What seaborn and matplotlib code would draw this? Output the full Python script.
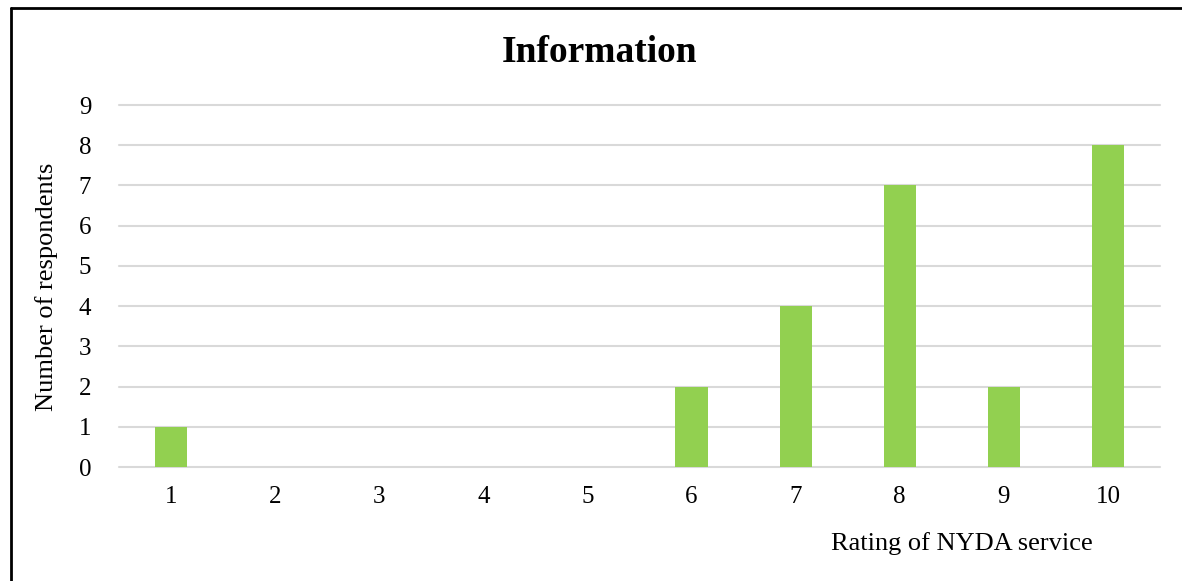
import matplotlib
matplotlib.use("Agg")
import matplotlib.pyplot as plt
import seaborn as sns
import pandas as pd

# data
ratings = ['1', '2', '3', '4', '5', '6', '7', '8', '9', '10']
respondents = [1, 0, 0, 0, 0, 2, 4, 7, 2, 8]
df = pd.DataFrame({'Rating': ratings, 'Count': respondents})

sns.set_theme(style="white")
plt.rcParams['font.family'] = ['Liberation Serif', 'DejaVu Serif']
plt.rcParams['text.color'] = 'black'

fig = plt.figure(figsize=(11.82, 5.81), dpi=100)
ax = fig.add_axes([119 / 1182, 1 - 467 / 581, 1041 / 1182, 362 / 581])

sns.barplot(data=df, x='Rating', y='Count', color='#92D050', width=0.31,
            saturation=1, linewidth=0, ax=ax, zorder=3)

ax.set_ylim(0, 9)
ax.set_yticks(range(0, 10))
ax.set_xlim(-0.5, 9.5)
ax.yaxis.grid(True, color='#D9D9D9', linewidth=1.5, zorder=0)
ax.set_axisbelow(True)
for s in ax.spines.values():
    s.set_visible(False)
ax.tick_params(axis='both', length=0, labelsize=18, labelcolor='black')
ax.tick_params(axis='x', pad=14)
ax.tick_params(axis='y', pad=20)
ax.set_xlabel('')
ax.set_ylabel('')
for gl in ax.get_ygridlines():
    gl.set_clip_on(False)

fig.text(600 / 1182, 1 - 53 / 581, 'Information', ha='center', va='center',
         fontsize=27, fontweight='bold', color='black')
fig.text(47 / 1182, 1 - 287 / 581, 'Number of respondents', rotation=90,
         ha='center', va='center', fontsize=19, color='black')
fig.text(1093 / 1182, 1 - 544 / 581, 'Rating of NYDA service', ha='right',
         va='center', fontsize=19, color='black')

# border of the chart box (left and top edge visible)
fig.add_artist(plt.Line2D([11 / 1182, 11 / 1182], [0, 1 - 8 / 581],
                          transform=fig.transFigure, color='black', linewidth=2))
fig.add_artist(plt.Line2D([11 / 1182, 1], [1 - 8 / 581, 1 - 8 / 581],
                          transform=fig.transFigure, color='black', linewidth=2))

fig.savefig('out.png', dpi=100)
